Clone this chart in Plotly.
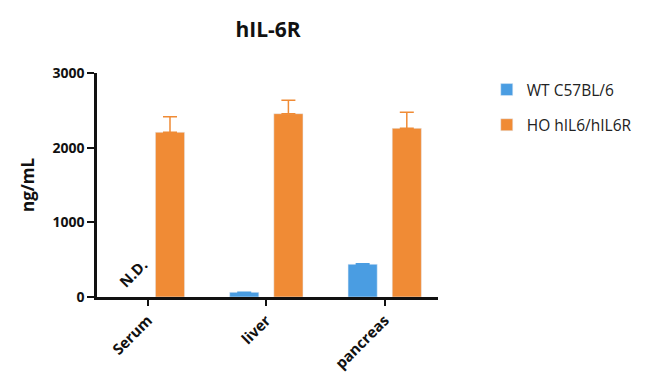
import plotly.graph_objects as go

categories = ["Serum", "liver", "pancreas"]
wt_values = [None, 63, 438]
wt_err = [0, 0, 8]
ho_values = [2206, 2455, 2259]
ho_err = [209, 179, 214]

BLUE = "#4a9de2"
ORANGE = "#f08b35"
FONT = "Open Sans"

fig = go.Figure()
fig.add_trace(go.Bar(
    x=categories, y=wt_values, name="WT C57BL/6", marker_color=BLUE,
    legendgroup="a",
    error_y=dict(type="data", array=wt_err, visible=True, color=BLUE, thickness=1.5, width=7, symmetric=False, arrayminus=[0, 0, 0]),
))
fig.add_trace(go.Bar(
    x=categories, y=ho_values, name="HO hIL6/hIL6R", marker_color=ORANGE,
    legendgroup="b",
    error_y=dict(type="data", array=ho_err, visible=True, color=ORANGE, thickness=1.5, width=7, symmetric=False, arrayminus=[0, 0, 0]),
))

fig.add_annotation(x=0, y=0, xref="x", yref="y", xshift=-15, yshift=24,
                   text="<b>N.D.</b>", showarrow=False, textangle=-45,
                   font=dict(family=FONT, size=15, color="#111"))

fig.update_layout(
    width=650, height=386,
    paper_bgcolor="white", plot_bgcolor="white",
    margin=dict(l=89, r=220, t=65, b=97),
    barmode="group", bargap=0.254, bargroupgap=0.34,
    title=dict(text="<b>hIL-6R</b>", x=0.40, xanchor="center", y=0.945, yanchor="middle",
               font=dict(family=FONT, size=21, color="#111")),
    font=dict(family=FONT, color="#111"),
    legend=dict(x=1.143, y=1.0, xanchor="left", yanchor="top",
                font=dict(family=FONT, size=15.5, color="#222"),
                tracegroupgap=12, bgcolor="rgba(0,0,0,0)"),
    xaxis=dict(range=[-0.43, 2.45], showline=True, linecolor="#111", linewidth=2.5,
               ticks="outside", ticklen=6, tickwidth=2, tickcolor="#111",
               tickangle=-45, tickfont=dict(family=FONT, size=15, color="#111", weight="bold"),
               showgrid=False, zeroline=False),
    yaxis=dict(range=[0, 3000], tickvals=[0, 1000, 2000, 3000], showline=True,
               linecolor="#111", linewidth=2.5, ticks="outside", ticklen=7, tickwidth=2,
               tickcolor="#111", tickfont=dict(family=FONT, size=14, color="#111", weight="bold"),
               showgrid=False, zeroline=False,
               title=dict(text="<b>ng/mL</b>", font=dict(family=FONT, size=17, color="#111"), standoff=14)),
)

fig.write_html("out.html")
